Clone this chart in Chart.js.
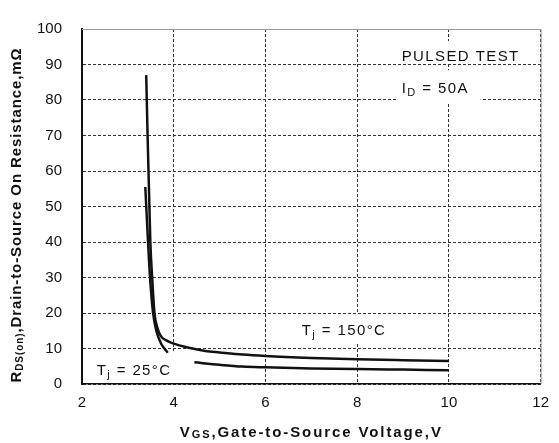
<!DOCTYPE html>
<html>
<head>
<meta charset="utf-8">
<script src="https://cdn.jsdelivr.net/npm/chart.js@4"></script>
<style>
  html, body { margin: 0; padding: 0; background: #fff; }
  #wrap { width: 559px; height: 443px; }
</style>
</head>
<body>
<div id="wrap"><canvas id="c" width="559" height="443"></canvas></div>
<script>
// axis ranges
const xRange = [2, 12, 2];
const yRange = [0, 100, 10];

// Tj = 25°C (null = gap in the printed curve)
const vgs25 = [3.38, 3.42, 3.46, 3.50, 3.55, 3.62, 3.72, 3.87, 4.2, 4.45, 5.0, 5.5, 6.0, 7.0, 8.0, 9.0, 10.0];
const rds25 = [55.5, 45, 35, 27, 20, 15, 11.5, 8.8, null, 6.1, 5.4, 4.9, 4.7, 4.4, 4.2, 4.05, 3.9];

// Tj = 150°C
const vgs150 = [3.40, 3.43, 3.46, 3.49, 3.53, 3.58, 3.64, 3.72, 3.85, 3.97, 4.33, 4.69, 5.0, 5.5, 6.0, 7.0, 8.0, 9.0, 10.0];
const rds150 = [87, 70, 55, 40, 30, 20, 16, 13.5, 12.2, 11.5, 10.2, 9.3, 8.9, 8.3, 7.9, 7.35, 6.95, 6.7, 6.5];

const FAM = '"Liberation Sans", Arial, sans-serif';
const toPts = (xs, ys) => xs.map((x, i) => ({ x: x, y: ys[i] }));

// text labels inside the plot, placed in data units
const notes = [
  { parts: [{ text: 'PULSED TEST' }], at: [8.97, 91.0], box: [8.82, 96.6, 11.72, 90.4] },
  { parts: [{ text: 'I' }, { text: 'D', sub: true }, { text: ' = 50A' }], at: [8.97, 82.1], box: [8.87, 88.4, 10.69, 79.1] },
  { parts: [{ text: 'T' }, { text: 'j', sub: true }, { text: ' = 150°C' }], at: [6.79, 13.9], box: [6.68, 19.7, 8.93, 11.8] },
  { parts: [{ text: 'T' }, { text: 'j', sub: true }, { text: ' = 25°C' }], at: [2.32, 2.5], box: [2.04, 9.25, 4.06, 0.4] }
];

function drawParts(ctx, parts, x, y, spacing, align) {
  ctx.save();
  ctx.letterSpacing = spacing + 'px';
  let w = 0;
  parts.forEach(p => { ctx.font = p.font; w += ctx.measureText(p.text).width; });
  let cx = align === 'center' ? x - w / 2 : x;
  parts.forEach(p => {
    ctx.font = p.font;
    ctx.fillText(p.text, cx, y + (p.dy || 0));
    cx += ctx.measureText(p.text).width;
  });
  ctx.restore();
}

const notesPlugin = {
  id: 'notes',
  beforeDatasetsDraw(chart) {
    const { ctx, scales: { x, y } } = chart;
    ctx.save();
    notes.forEach(n => {
      const x0 = x.getPixelForValue(n.box[0]), y0 = y.getPixelForValue(n.box[1]);
      const x1 = x.getPixelForValue(n.box[2]), y1 = y.getPixelForValue(n.box[3]);
      ctx.fillStyle = '#fff';
      ctx.fillRect(x0, y0, x1 - x0, y1 - y0);
      ctx.fillStyle = '#111';
      ctx.textBaseline = 'alphabetic';
      const parts = n.parts.map(p => ({
        text: p.text,
        font: p.sub ? '11px ' + FAM : '15px ' + FAM,
        dy: p.sub ? 3 : 0
      }));
      drawParts(ctx, parts, x.getPixelForValue(n.at[0]), y.getPixelForValue(n.at[1]), 1.4, 'left');
    });
    ctx.restore();
  },
  afterDraw(chart) {
    const { ctx, chartArea: a } = chart;
    ctx.save();
    // grey top and right frame
    ctx.strokeStyle = '#9a9a9a';
    ctx.lineWidth = 1;
    ctx.beginPath();
    ctx.moveTo(a.left, a.top + 0.5);
    ctx.lineTo(a.right + 0.5, a.top + 0.5);
    ctx.lineTo(a.right + 0.5, a.bottom);
    ctx.stroke();

    ctx.fillStyle = '#111';
    // x axis title
    ctx.textBaseline = 'alphabetic';
    drawParts(ctx, [
      { text: 'V', font: 'bold 15px ' + FAM },
      { text: 'GS', font: 'bold 11px ' + FAM, dy: 1 },
      { text: ',Gate-to-Source Voltage,V', font: 'bold 15px ' + FAM }
    ], (a.left + a.right) / 2, 437, 1.9, 'center');

    // y axis title
    ctx.translate(17, 215);
    ctx.rotate(-Math.PI / 2);
    ctx.textBaseline = 'middle';
    drawParts(ctx, [
      { text: 'R', font: 'bold 15px ' + FAM },
      { text: 'DS(on)', font: 'bold 10px ' + FAM, dy: 3 },
      { text: ',Drain-to-Source On Resistance,mΩ', font: 'bold 15px ' + FAM }
    ], 0, 0, 0.9, 'center');
    ctx.restore();
  }
};

const curve = {
  borderColor: '#111',
  borderWidth: 2.5,
  pointRadius: 0,
  fill: false,
  spanGaps: false,
  cubicInterpolationMode: 'monotone'
};

new Chart(document.getElementById('c').getContext('2d'), {
  type: 'line',
  data: {
    datasets: [
      Object.assign({ label: 'Tj = 25°C', data: toPts(vgs25, rds25) }, curve),
      Object.assign({ label: 'Tj = 150°C', data: toPts(vgs150, rds150) }, curve)
    ]
  },
  options: {
    responsive: false,
    devicePixelRatio: 1,
    animation: false,
    layout: { padding: { left: 0, top: 21, right: 11, bottom: 0 } },
    plugins: {
      legend: { display: false },
      tooltip: { enabled: false }
    },
    scales: {
      x: {
        type: 'linear',
        min: xRange[0],
        max: xRange[1],
        afterFit: s => { s.height = 59; },
        ticks: { stepSize: xRange[2], padding: 10, color: '#111', font: { family: FAM, size: 15 } },
        grid: { color: '#333', lineWidth: 1, drawTicks: false },
        border: { display: true, color: '#111', width: 1.5, dash: [3, 2] }
      },
      y: {
        min: yRange[0],
        max: yRange[1],
        afterFit: s => { s.width = 82; },
        ticks: { stepSize: yRange[2], padding: 20, color: '#111', font: { family: FAM, size: 15 } },
        grid: { color: '#333', lineWidth: 1, drawTicks: false },
        border: { display: true, color: '#111', width: 2, dash: [3, 2] }
      }
    }
  },
  plugins: [notesPlugin]
});
</script>
</body>
</html>
